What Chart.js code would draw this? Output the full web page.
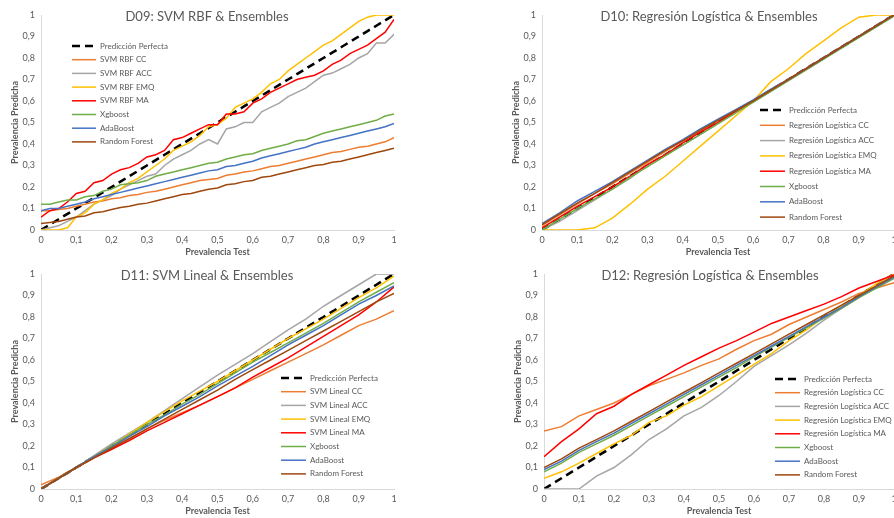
<!DOCTYPE html>
<html>
<head>
<meta charset="utf-8">
<script src="https://cdn.jsdelivr.net/npm/chart.js@4.4.0/dist/chart.umd.min.js"></script>
<style>
  html, body { margin: 0; padding: 0; background: #fff; overflow: hidden; width: 894px; height: 518px; }
  .box { position: absolute; }
</style>
</head>
<body>
<div class="box" style="left:0;top:0"><canvas id="c09" width="447" height="259"></canvas></div>
<div class="box" style="left:447px;top:0"><canvas id="c10" width="470" height="259"></canvas></div>
<div class="box" style="left:0;top:259px"><canvas id="c11" width="447" height="259"></canvas></div>
<div class="box" style="left:447px;top:259px"><canvas id="c12" width="470" height="259"></canvas></div>
<script>
// ---- D09: SVM RBF & Ensembles (step 0.025) ----
const d09X = [0,0.025,0.05,0.075,0.1,0.125,0.15,0.175,0.2,0.225,0.25,0.275,0.3,0.325,0.35,0.375,0.4,0.425,0.45,0.475,0.5,0.525,0.55,0.575,0.6,0.625,0.65,0.675,0.7,0.725,0.75,0.775,0.8,0.825,0.85,0.875,0.9,0.925,0.95,0.975,1];
const d09Perfect = [0,0.025,0.05,0.075,0.1,0.125,0.15,0.175,0.2,0.225,0.25,0.275,0.3,0.325,0.35,0.375,0.4,0.425,0.45,0.475,0.5,0.525,0.55,0.575,0.6,0.625,0.65,0.675,0.7,0.725,0.75,0.775,0.8,0.825,0.85,0.875,0.9,0.925,0.95,0.975,1];
const d09CC  = [0.09,0.09,0.095,0.1,0.11,0.12,0.13,0.135,0.145,0.15,0.16,0.165,0.175,0.18,0.19,0.2,0.21,0.22,0.23,0.235,0.24,0.255,0.26,0.27,0.275,0.285,0.295,0.3,0.31,0.32,0.33,0.34,0.35,0.36,0.365,0.375,0.385,0.39,0.4,0.41,0.43];
const d09ACC = [0,0.01,0.02,0.04,0.06,0.09,0.12,0.14,0.16,0.19,0.21,0.23,0.25,0.26,0.3,0.33,0.35,0.37,0.4,0.42,0.4,0.47,0.48,0.5,0.5,0.55,0.57,0.59,0.62,0.64,0.66,0.69,0.72,0.73,0.75,0.77,0.8,0.82,0.87,0.87,0.91];
const d09EMQ = [0,0,0,0.01,0.06,0.08,0.12,0.14,0.17,0.19,0.22,0.24,0.27,0.3,0.33,0.37,0.39,0.41,0.44,0.48,0.49,0.52,0.57,0.59,0.61,0.64,0.68,0.7,0.74,0.77,0.8,0.83,0.86,0.88,0.91,0.94,0.97,0.99,1,1,1];
const d09MA  = [0.06,0.09,0.1,0.13,0.17,0.18,0.22,0.23,0.26,0.28,0.29,0.31,0.34,0.35,0.37,0.42,0.43,0.45,0.47,0.49,0.49,0.54,0.54,0.55,0.59,0.61,0.64,0.66,0.68,0.7,0.71,0.72,0.74,0.77,0.79,0.82,0.84,0.86,0.89,0.92,0.98];
const d09Xgb = [0.12,0.12,0.13,0.14,0.14,0.155,0.16,0.18,0.19,0.21,0.215,0.22,0.23,0.25,0.26,0.27,0.28,0.29,0.3,0.31,0.315,0.33,0.34,0.35,0.355,0.37,0.38,0.39,0.4,0.415,0.42,0.435,0.45,0.46,0.47,0.48,0.49,0.5,0.51,0.53,0.54];
const d09Ada = [0.09,0.1,0.1,0.11,0.12,0.13,0.145,0.155,0.165,0.175,0.185,0.195,0.205,0.215,0.225,0.235,0.245,0.255,0.265,0.275,0.28,0.295,0.3,0.31,0.32,0.335,0.345,0.355,0.365,0.375,0.385,0.4,0.41,0.42,0.43,0.44,0.45,0.46,0.47,0.48,0.495];
const d09RF  = [0.03,0.035,0.04,0.05,0.06,0.065,0.08,0.085,0.095,0.105,0.11,0.12,0.125,0.135,0.145,0.155,0.165,0.17,0.18,0.19,0.195,0.21,0.215,0.225,0.23,0.245,0.25,0.26,0.27,0.28,0.29,0.3,0.305,0.315,0.32,0.33,0.34,0.35,0.36,0.37,0.38];
const d09Labels = ["Predicción Perfecta","SVM RBF CC","SVM RBF ACC","SVM RBF EMQ","SVM RBF MA","Xgboost","AdaBoost","Random Forest"];

// ---- D10: Regresión Logística & Ensembles (step 0.05) ----
const d10X = [0,0.05,0.1,0.15,0.2,0.25,0.3,0.35,0.4,0.45,0.5,0.55,0.6,0.65,0.7,0.75,0.8,0.85,0.9,0.95,1];
const d10Perfect = [0,0.05,0.1,0.15,0.2,0.25,0.3,0.35,0.4,0.45,0.5,0.55,0.6,0.65,0.7,0.75,0.8,0.85,0.9,0.95,1];
const d10CC  = [0.02,0.07,0.12,0.17,0.215,0.265,0.315,0.365,0.415,0.46,0.51,0.555,0.6,0.65,0.7,0.75,0.8,0.85,0.9,0.95,1];
const d10ACC = [0,0.04,0.09,0.14,0.19,0.24,0.3,0.35,0.395,0.445,0.495,0.545,0.595,0.645,0.695,0.745,0.795,0.85,0.9,0.95,1];
const d10EMQ = [0,0,0,0.01,0.055,0.12,0.19,0.25,0.32,0.39,0.46,0.53,0.6,0.69,0.75,0.82,0.88,0.94,0.99,1,1];
const d10MA  = [0.01,0.06,0.11,0.155,0.2,0.25,0.305,0.35,0.405,0.455,0.5,0.55,0.6,0.65,0.7,0.75,0.8,0.85,0.9,0.95,1];
const d10Xgb = [0,0.05,0.1,0.145,0.19,0.245,0.295,0.345,0.395,0.445,0.495,0.545,0.595,0.645,0.695,0.745,0.795,0.845,0.895,0.945,0.995];
const d10Ada = [0.03,0.08,0.135,0.18,0.225,0.275,0.325,0.375,0.42,0.47,0.515,0.56,0.605,0.655,0.7,0.75,0.8,0.85,0.9,0.95,1];
const d10RF  = [0.025,0.075,0.125,0.17,0.22,0.27,0.32,0.37,0.415,0.465,0.51,0.555,0.6,0.65,0.7,0.75,0.8,0.85,0.9,0.95,1];
const d10Labels = ["Predicción Perfecta","Regresión Logística CC","Regresión Logística ACC","Regresión Logística EMQ","Regresión Logística MA","Xgboost","AdaBoost","Random Forest"];

// ---- D11: SVM Lineal & Ensembles ----
const d11X = [0,0.05,0.1,0.15,0.2,0.25,0.3,0.35,0.4,0.45,0.5,0.55,0.6,0.65,0.7,0.75,0.8,0.85,0.9,0.95,1];
const d11Perfect = [0,0.05,0.1,0.15,0.2,0.25,0.3,0.35,0.4,0.45,0.5,0.55,0.6,0.65,0.7,0.75,0.8,0.85,0.9,0.95,1];
const d11CC  = [0.02,0.055,0.1,0.145,0.185,0.23,0.28,0.32,0.355,0.39,0.43,0.47,0.51,0.55,0.59,0.63,0.67,0.715,0.76,0.79,0.83];
const d11ACC = [0,0.05,0.1,0.155,0.21,0.26,0.31,0.365,0.42,0.475,0.53,0.58,0.63,0.685,0.74,0.79,0.85,0.9,0.95,1,1];
const d11EMQ = [0,0.05,0.1,0.15,0.2,0.255,0.31,0.36,0.41,0.455,0.5,0.55,0.6,0.65,0.7,0.745,0.79,0.84,0.89,0.935,0.99];
const d11MA  = [0,0.05,0.1,0.145,0.185,0.225,0.27,0.31,0.35,0.39,0.43,0.47,0.52,0.565,0.61,0.66,0.71,0.76,0.81,0.87,0.94];
const d11Xgb = [0,0.05,0.1,0.15,0.2,0.25,0.3,0.345,0.395,0.44,0.49,0.54,0.59,0.635,0.68,0.725,0.77,0.82,0.87,0.915,0.96];
const d11Ada = [0,0.05,0.1,0.15,0.195,0.245,0.29,0.34,0.385,0.43,0.48,0.525,0.57,0.62,0.67,0.715,0.76,0.81,0.86,0.9,0.945];
const d11RF  = [0,0.05,0.1,0.145,0.19,0.235,0.28,0.325,0.37,0.415,0.46,0.51,0.555,0.6,0.645,0.69,0.735,0.78,0.825,0.87,0.91];
const d11Labels = ["Predicción Perfecta","SVM Lineal CC","SVM Lineal ACC","SVM Lineal EMQ","SVM Lineal MA","Xgboost","AdaBoost","Random Forest"];

// ---- D12: Regresión Logística & Ensembles ----
const d12X = [0,0.05,0.1,0.15,0.2,0.25,0.3,0.35,0.4,0.45,0.5,0.55,0.6,0.65,0.7,0.75,0.8,0.85,0.9,0.95,1];
const d12Perfect = [0,0.05,0.1,0.15,0.2,0.25,0.3,0.35,0.4,0.45,0.5,0.55,0.6,0.65,0.7,0.75,0.8,0.85,0.9,0.95,1];
const d12CC  = [0.27,0.29,0.34,0.37,0.4,0.44,0.48,0.51,0.54,0.575,0.605,0.65,0.69,0.72,0.765,0.8,0.835,0.87,0.91,0.935,0.96];
const d12ACC = [0,0,0,0.06,0.1,0.16,0.23,0.28,0.34,0.38,0.435,0.5,0.57,0.62,0.67,0.725,0.785,0.84,0.89,0.945,1];
const d12EMQ = [0.05,0.08,0.12,0.165,0.21,0.25,0.31,0.34,0.39,0.43,0.48,0.53,0.58,0.63,0.69,0.74,0.8,0.85,0.9,0.955,1];
const d12MA  = [0.15,0.22,0.28,0.35,0.385,0.44,0.485,0.53,0.575,0.615,0.655,0.69,0.73,0.77,0.8,0.83,0.86,0.895,0.935,0.965,0.995];
const d12Xgb = [0.08,0.12,0.17,0.21,0.25,0.295,0.34,0.385,0.43,0.475,0.52,0.565,0.615,0.66,0.705,0.75,0.795,0.84,0.89,0.935,0.98];
const d12Ada = [0.09,0.13,0.18,0.22,0.26,0.305,0.35,0.395,0.44,0.485,0.53,0.575,0.62,0.665,0.71,0.755,0.8,0.845,0.895,0.94,0.985];
const d12RF  = [0.1,0.14,0.19,0.23,0.27,0.315,0.36,0.405,0.45,0.495,0.54,0.585,0.63,0.675,0.72,0.765,0.81,0.855,0.9,0.945,0.99];
const d12Labels = d10Labels;

const colors = ["#000000","#ED7D31","#A5A5A5","#FFC000","#FF0000","#70AD47","#4472C4","#9E480E"];
const txt = "#595959";
const FONT = "Lato, 'Open Sans', sans-serif";

// titulo y leyenda dibujados dentro del area del grafico
const overlay = {
  id: "overlay",
  afterDraw(chart, args, o) {
    const ctx = chart.ctx;
    ctx.save();
    ctx.fillStyle = txt;
    ctx.font = "13px " + FONT;
    ctx.textAlign = "center";
    ctx.textBaseline = "middle";
    ctx.fillText(o.title, o.titleX, o.titleY);
    ctx.font = "8px " + FONT;
    ctx.textAlign = "left";
    chart.data.datasets.forEach((ds, i) => {
      const y = o.legY + i * o.legDy;
      ctx.strokeStyle = ds.borderColor;
      ctx.lineWidth = ds.borderWidth;
      ctx.setLineDash(ds.borderDash || []);
      ctx.beginPath();
      ctx.moveTo(o.legX1, y);
      ctx.lineTo(o.legX2, y);
      ctx.stroke();
      ctx.fillText(ds.label, o.legX2 + 4, y);
    });
    ctx.restore();
  }
};

function fmt(v) {
  const r = Math.round(v * 10) / 10;
  return r === 0 || r === 1 ? String(r) : r.toFixed(1).replace(".", ",");
}

function makeChart(id, xs, series, labels, ov, padLeft, padRight) {
  const datasets = series.map((ys, i) => ({
    label: labels[i],
    data: xs.map((x, j) => ({ x: x, y: ys[j] })),
    borderColor: colors[i],
    borderWidth: i === 0 ? 2.6 : 1.5,
    borderDash: i === 0 ? [8, 5] : [],
    pointRadius: 0,
    tension: 0,
    order: 8 - i
  }));
  new Chart(document.getElementById(id), {
    type: "line",
    data: { datasets },
    options: {
      responsive: false,
      animation: false,
      layout: { padding: { left: padLeft, right: padRight, top: 15, bottom: 0 } },
      plugins: { legend: { display: false }, tooltip: { enabled: false }, overlay: ov },
      scales: {
        x: {
          type: "linear", min: 0, max: 1,
          grid: { display: false, drawTicks: false },
          border: { color: "#d9d9d9", width: 1 },
          ticks: { stepSize: 0.1, color: txt, font: { size: 9, family: FONT }, padding: 5, callback: fmt, maxRotation: 0 },
          title: { display: true, text: "Prevalencia Test", color: txt, font: { size: 9, weight: "bold", family: FONT }, padding: { top: 0, bottom: 2 } },
          afterFit(s) { s.height = 29; }
        },
        y: {
          min: 0, max: 1,
          grid: { display: false, drawTicks: false },
          border: { color: "#d9d9d9", width: 1 },
          ticks: { stepSize: 0.1, color: txt, font: { size: 9, family: FONT }, padding: 6, callback: fmt },
          title: { display: true, text: "Prevalencia Predicha", color: txt, font: { size: 9, weight: "bold", family: FONT }, padding: { top: 10, bottom: 0 } },
          afterFit(s) { s.width = 41; }
        }
      }
    },
    plugins: [overlay]
  });
}

makeChart("c09", d09X, [d09Perfect, d09CC, d09ACC, d09EMQ, d09MA, d09Xgb, d09Ada, d09RF], d09Labels,
  { title: "D09: SVM RBF & Ensembles", titleX: 207, titleY: 17, legX1: 72, legX2: 96, legY: 46, legDy: 13.7 }, 0, 53);
makeChart("c10", d10X, [d10Perfect, d10CC, d10ACC, d10EMQ, d10MA, d10Xgb, d10Ada, d10RF], d10Labels,
  { title: "D10: Regresión Logística & Ensembles", titleX: 262, titleY: 17, legX1: 313, legX2: 338, legY: 110, legDy: 15.3 }, 54, 23);
makeChart("c11", d11X, [d11Perfect, d11CC, d11ACC, d11EMQ, d11MA, d11Xgb, d11Ada, d11RF], d11Labels,
  { title: "D11: SVM Lineal & Ensembles", titleX: 207, titleY: 17, legX1: 281, legX2: 306, legY: 119, legDy: 13.7 }, 0, 53);
makeChart("c12", d12X, [d12Perfect, d12CC, d12ACC, d12EMQ, d12MA, d12Xgb, d12Ada, d12RF], d12Labels,
  { title: "D12: Regresión Logística & Ensembles", titleX: 263, titleY: 17, legX1: 328, legX2: 353, legY: 120, legDy: 13.7 }, 56, 23);
</script>
</body>
</html>
